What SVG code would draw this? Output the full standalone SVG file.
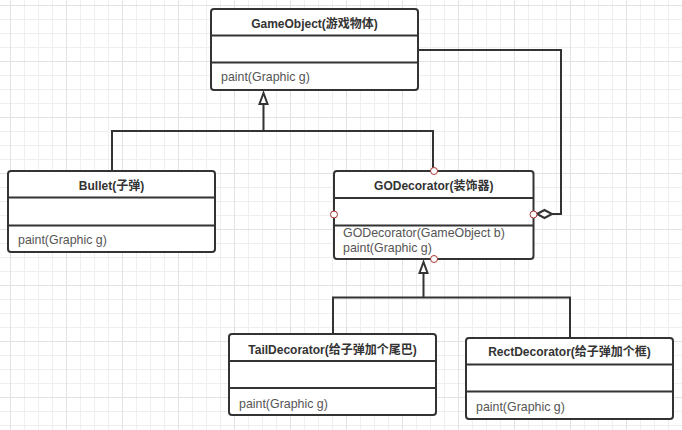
<svg xmlns="http://www.w3.org/2000/svg" width="682" height="430" viewBox="0 0 682 430">
<defs>
<pattern id="minor" width="14" height="14" patternUnits="userSpaceOnUse" x="10" y="5">
<path d="M0.5 0V14M0 0.5H14" stroke="#efefef" stroke-width="1" fill="none"/>
</pattern>
<pattern id="major" width="56" height="56" patternUnits="userSpaceOnUse" x="10" y="5">
<path d="M0.5 0V56M0 0.5H56" stroke="#e2e2e2" stroke-width="1" fill="none"/>
</pattern>
</defs>
<style>
.box{fill:#fff;stroke:#333;stroke-width:2}
.div{stroke:#333;stroke-width:2}
.title{font-family:"Liberation Sans","Noto Sans CJK SC",sans-serif;font-size:12px;font-weight:bold;fill:#333;text-anchor:middle}
.body{font-family:"Liberation Sans","Noto Sans CJK SC",sans-serif;font-size:12.4px;fill:#555}
.ln{fill:none;stroke:#333;stroke-width:2}
.tri{fill:#fff;stroke:#333;stroke-width:2}
.pt{fill:#fff;stroke:#a33;stroke-width:1}
</style>
<rect width="682" height="430" fill="#fff"/>
<rect width="682" height="430" fill="url(#minor)"/>
<rect width="682" height="430" fill="url(#major)"/>

<g id="connectors">
<path class="ln" d="M112 171V131H433V171"/>
<path class="ln" d="M263.5 131V104" stroke-width="3"/>
<polygon class="tri" points="263.5,93 259.5,104 267.5,104"/>
<path class="ln" d="M418 50H561V214H552"/>
<polygon class="tri" points="537,214 544.5,210 552,214 544.5,218"/>
<path class="ln" d="M333 334V297.5H570V338"/>
<path class="ln" d="M423.5 297.5V273" stroke-width="3"/>
<polygon class="tri" points="423.5,262 419.5,273 427.5,273"/>
</g>

<g id="GameObject">
<rect class="box" x="211" y="9" width="207" height="81" rx="3"/>
<line class="div" x1="211" y1="35.5" x2="418" y2="35.5"/>
<line class="div" x1="211" y1="62.5" x2="418" y2="62.5"/>
<text class="title" x="314.5" y="28">GameObject(游戏物体)</text>
<text class="body" x="221" y="81">paint(Graphic g)</text>
</g>

<g id="Bullet">
<rect class="box" x="8" y="171" width="207" height="81" rx="3"/>
<line class="div" x1="8" y1="197.5" x2="215" y2="197.5"/>
<line class="div" x1="8" y1="225.5" x2="215" y2="225.5"/>
<text class="title" x="111.5" y="190">Bullet(子弹)</text>
<text class="body" x="18" y="244">paint(Graphic g)</text>
</g>

<g id="GODecorator">
<rect class="box" x="334" y="171" width="199.5" height="88" rx="3"/>
<line class="div" x1="334" y1="198" x2="533.5" y2="198"/>
<line class="div" x1="334" y1="225.5" x2="533.5" y2="225.5"/>
<text class="title" x="433.75" y="190">GODecorator(装饰器)</text>
<text class="body" x="343" y="237">GODecorator(GameObject b)</text>
<text class="body" x="343" y="252">paint(Graphic g)</text>
<circle class="pt" cx="434" cy="171" r="3.5"/>
<circle class="pt" cx="334" cy="214.5" r="3.5"/>
<circle class="pt" cx="533.5" cy="214.5" r="3.5"/>
<circle class="pt" cx="434" cy="259" r="3.5"/>
</g>

<g id="TailDecorator">
<rect class="box" x="229" y="334" width="207" height="81" rx="3"/>
<line class="div" x1="229" y1="361" x2="436" y2="361"/>
<line class="div" x1="229" y1="388" x2="436" y2="388"/>
<text class="title" x="332.5" y="353.5">TailDecorator(给子弹加个尾巴)</text>
<text class="body" x="239" y="407.5">paint(Graphic g)</text>
</g>

<g id="RectDecorator">
<rect class="box" x="466" y="338" width="207" height="81" rx="3"/>
<line class="div" x1="466" y1="364.5" x2="673" y2="364.5"/>
<line class="div" x1="466" y1="391.5" x2="673" y2="391.5"/>
<text class="title" x="569.5" y="356">RectDecorator(给子弹加个框)</text>
<text class="body" x="476" y="411">paint(Graphic g)</text>
</g>
</svg>
